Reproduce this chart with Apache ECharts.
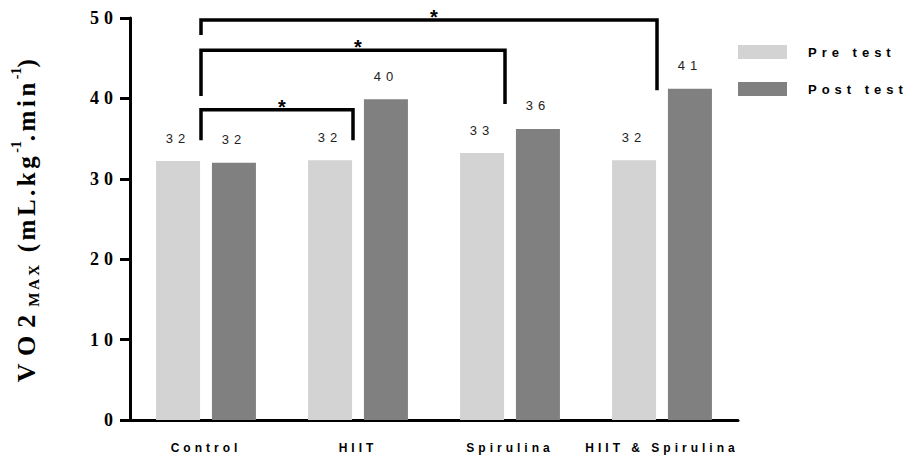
<!DOCTYPE html>
<html>
<head>
<meta charset="utf-8">
<script src="https://cdn.jsdelivr.net/npm/echarts@6/dist/echarts.min.js"></script>
<style>
  html, body { margin: 0; padding: 0; background: #fff; }
  #main { width: 907px; height: 462px; }
  /* the original figure uses widely spaced letters */
  #main text[style*="26px"] { letter-spacing: 8px; }
  #main text[style*="25px"] { letter-spacing: 3.5px; }
  #main text[style*="15px"] { letter-spacing: 3px; }
  #main text[style*="18px"] { letter-spacing: 5px; }
  #main text[style*="13px"] { letter-spacing: 5px; }
  #main text[style*="12px"] { letter-spacing: 4px; }
</style>
</head>
<body>
<div id="main"></div>
<script>
var categories = ['Control', 'HIIT', 'Spirulina', 'HIIT & Spirulina'];
var preTest = [32.2, 32.3, 33.2, 32.3];
var postTest = [32.0, 39.9, 36.2, 41.2];
var yTicks = [0, 10, 20, 30, 40, 50];
// significance brackets: from group, to group, top, left leg end, right leg end
var brackets = [
  [0, 1, 38.6, 34.8, 34.8],
  [0, 2, 46.0, 40.3, 39.3],
  [0, 3, 49.75, 47.9, 41.0]
];

// same spacing as the css above, so echarts lays out the wider text correctly
var spacing = { 26: 8, 25: 3.5, 15: 3, 18: 5, 13: 5, 12: 4 };
function spacingFor(font) {
  var m = /(\d+)px/.exec(font || '');
  return (m && spacing[m[1]]) || 0;
}
var measureCtx = document.createElement('canvas').getContext('2d');
echarts.setPlatformAPI({
  measureText: function (text, font) {
    measureCtx.font = font || '12px sans-serif';
    text = text == null ? '' : String(text);
    return { width: measureCtx.measureText(text).width + text.length * spacingFor(font) };
  }
});

var chart = echarts.init(document.getElementById('main'), null, { renderer: 'svg' });

var barLabel = {
  show: true,
  position: 'top',
  distance: 14,
  color: '#222',
  fontFamily: 'Liberation Sans',
  fontSize: 13,
  formatter: function (p) { return Math.round(p.value); }
};

var serif = { color: '#000', fontFamily: 'Liberation Serif', fontWeight: 'bold' };

var option = {
  backgroundColor: '#fff',
  animation: false,
  grid: { left: 130, right: 169, top: 18, bottom: 42, outerBoundsMode: 'none' },
  legend: {
    orient: 'vertical',
    left: 738,
    top: 43,
    padding: 0,
    itemWidth: 49,
    itemHeight: 14,
    itemGap: 19,
    icon: 'rect',
    data: ['Pre test', 'Post test'],
    textStyle: {
      color: '#000',
      fontFamily: 'Liberation Sans',
      fontWeight: 'bold',
      fontSize: 13,
      padding: [0, 0, 0, 16]
    }
  },
  xAxis: {
    type: 'category',
    data: categories,
    axisLine: { lineStyle: { color: '#000', width: 3 } },
    axisTick: { alignWithLabel: true, length: 8, lineStyle: { color: '#000', width: 3 } },
    axisLabel: {
      interval: 0,
      margin: 20,
      color: '#000',
      fontFamily: 'Liberation Sans',
      fontWeight: 'bold',
      fontSize: 12
    }
  },
  yAxis: {
    type: 'value',
    min: yTicks[0],
    max: yTicks[yTicks.length - 1],
    interval: yTicks[1] - yTicks[0],
    name: '{v|VO2}{b|MAX}{a| (mL.kg}{c|-1}{a|.min}{c|-1}{a|)}',
    nameLocation: 'middle',
    nameGap: 87,
    nameRotate: 90,
    nameTextStyle: {
      color: '#000',
      fontFamily: 'Liberation Serif',
      fontWeight: 'bold',
      fontSize: 25,
      rich: {
        v: Object.assign({ fontSize: 26 }, serif),
        a: Object.assign({ fontSize: 25 }, serif),
        b: Object.assign({ fontSize: 15, verticalAlign: 'bottom' }, serif),
        c: Object.assign({ fontSize: 14, verticalAlign: 'top' }, serif)
      }
    },
    splitLine: { show: false },
    axisLine: { show: true, lineStyle: { color: '#000', width: 3 } },
    axisTick: { show: true, length: 10, lineStyle: { color: '#000', width: 3 } },
    axisLabel: {
      margin: 12,
      color: '#000',
      fontFamily: 'Liberation Serif',
      fontWeight: 'bold',
      fontSize: 18
    }
  },
  series: [
    {
      name: 'Pre test',
      type: 'bar',
      barWidth: 44,
      barGap: '27%',
      itemStyle: { color: '#d3d3d3' },
      label: barLabel,
      data: preTest
    },
    {
      name: 'Post test',
      type: 'bar',
      barWidth: 44,
      itemStyle: { color: '#808080' },
      label: barLabel,
      data: postTest
    },
    {
      type: 'custom',
      z: 10,
      encode: { x: [0, 1], y: [2, 3, 4] },
      data: brackets,
      renderItem: function (params, api) {
        var dx = -5;
        var l = api.coord([api.value(0), api.value(2)]);
        var r = api.coord([api.value(1), api.value(2)]);
        var lb = api.coord([api.value(0), api.value(3)]);
        var rb = api.coord([api.value(1), api.value(4)]);
        return {
          type: 'group',
          children: [{
            type: 'polyline',
            shape: { points: [[lb[0] + dx, lb[1]], [l[0] + dx, l[1]], [r[0] + dx, r[1]], [rb[0] + dx, rb[1]]] },
            style: { stroke: '#000', lineWidth: 3.5, fill: null, lineJoin: 'miter' }
          }, {
            type: 'text',
            style: {
              text: '*',
              x: (l[0] + r[0]) / 2,
              y: l[1] - 3,
              align: 'center',
              verticalAlign: 'middle',
              fontFamily: 'Liberation Sans',
              fontWeight: 'bold',
              fontSize: 20,
              fill: '#000'
            }
          }]
        };
      }
    }
  ]
};

chart.setOption(option);
</script>
</body>
</html>
